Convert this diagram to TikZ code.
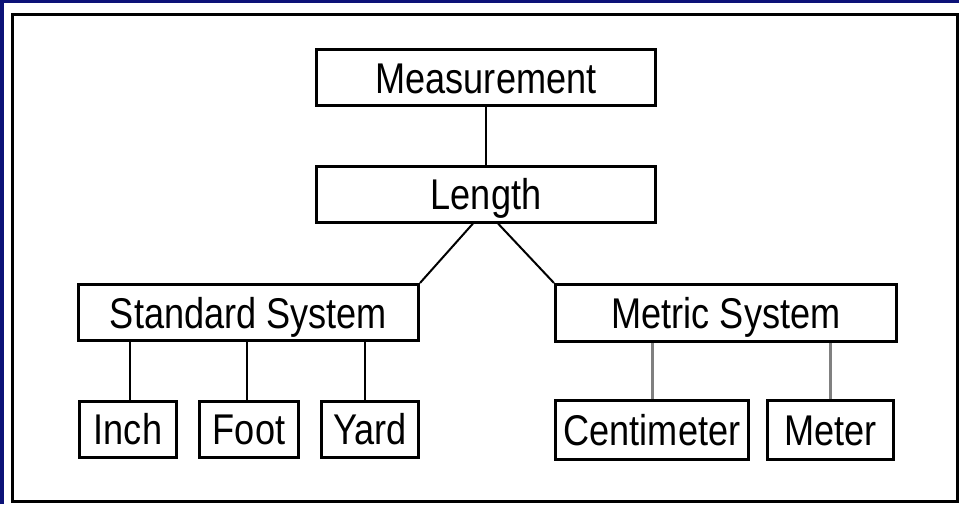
\documentclass[tikz,border=0pt]{standalone}
\usepackage{fontspec}
\setmainfont{Liberation Sans}[FakeStretch=0.84]
\usetikzlibrary{positioning}
\definecolor{slidenavy}{RGB}{12,18,120}
\tikzstyle{unit} = [rectangle, draw=black, line width=3pt, fill=white, inner sep=0pt, minimum height=56pt, text height=31pt, text depth=0pt, font=\fontsize{43}{50}\selectfont]
\tikzstyle{branch} = [draw=black, line width=2pt]
\tikzstyle{twig} = [draw=black, line width=2.5pt]
\tikzstyle{leaf} = [draw=gray, line width=3pt]

\begin{document}
\begin{tikzpicture}[x=1pt,y=-1pt]
\useasboundingbox (0,0) rectangle (959,504);

% slide frame
\fill[slidenavy] (0,0) rectangle (959,504);
\fill[white] (4,3) rectangle (959,504);
\draw[line width=3pt] (12.5,14) rectangle (957.5,501);

\node (meas) [unit, minimum width=339pt] at (486,77.5) {Measurement};
\node (len) [unit, minimum width=339pt, below of=meas, node distance=116.5pt] {Length};

\node (std) [unit, minimum width=340pt] at (248.5,312.5) {Standard System};
\node (met) [unit, minimum width=341pt, minimum height=57pt] at (726,313) {Metric System};

\node (inch) [unit, minimum width=97pt] at (128,429) {Inch};
\node (foot) [unit, minimum width=99pt, right of=inch, node distance=121pt] {Foot};
\node (yard) [unit, minimum width=97pt, right of=foot, node distance=121pt] {Yard};

\node (cm) [unit, minimum width=193pt, minimum height=59pt] at (652,430) {Centimeter};
\node (meter) [unit, minimum width=126pt, minimum height=59pt, right of=cm, node distance=178.5pt] {Meter};

%lines
\draw [branch] (meas) -- (len);
\draw [branch] ([xshift=-13pt]len.south) -- (std.north east);
\draw [branch] ([xshift=12pt]len.south) -- (met.north west);

\draw [twig] ([xshift=2pt]inch.north) -- ([xshift=2pt]inch.north |- std.south);
\draw [twig] ([xshift=-2pt]foot.north) -- ([xshift=-2pt]foot.north |- std.south);
\draw [twig] ([xshift=-5pt]yard.north) -- ([xshift=-5pt]yard.north |- std.south);

\draw [leaf] (cm.north) -- (cm.north |- met.south);
\draw [leaf] (meter.north) -- (meter.north |- met.south);

\end{tikzpicture}
\end{document}
